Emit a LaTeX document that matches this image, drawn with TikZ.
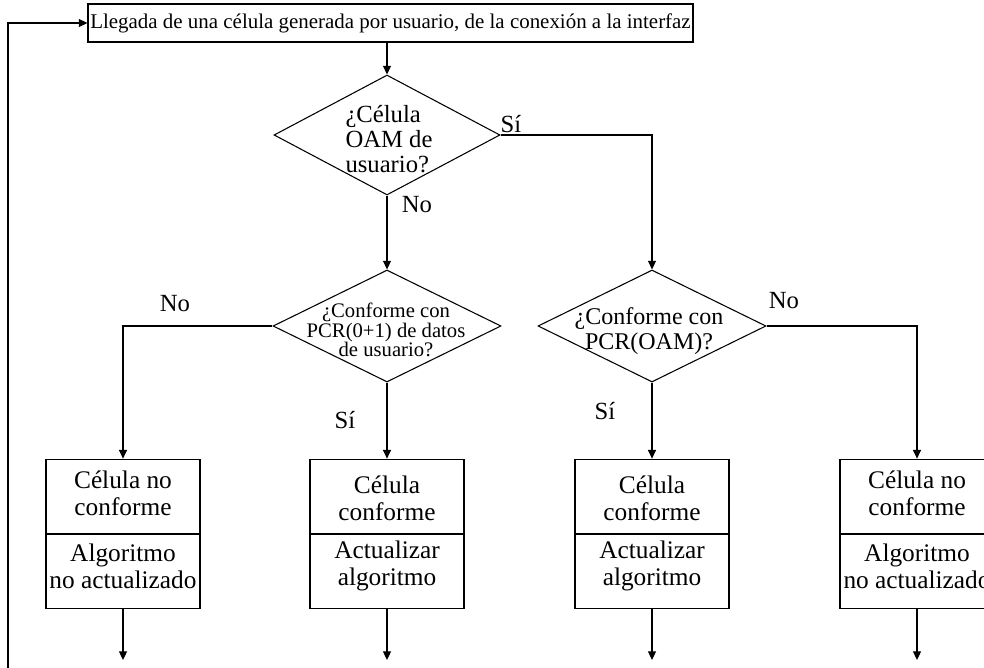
\documentclass[tikz,border=0pt]{standalone}
\usepackage{fontspec}
\setmainfont{Liberation Serif}
\usetikzlibrary{arrows.meta,shapes.geometric}
\begin{document}
\begin{tikzpicture}[x=0.75pt,y=-0.75pt,
  line/.style={draw=black, line width=0.8pt},
  flow/.style={line, -{Triangle[length=6.5pt,width=6pt]}},
  decision/.style={diamond, draw, line width=0.8pt, inner sep=0pt,
    minimum width=171pt, minimum height=84pt},
  part/.style={rectangle, draw, line width=0.8pt, inner sep=0pt,
    minimum width=115.5pt, minimum height=56pt},
  boxtext/.style={align=center, inner sep=0pt, font=\fontsize{19}{20}\selectfont},
  lbl/.style={inner sep=0pt, font=\fontsize{18.5}{20}\selectfont}]
\useasboundingbox (0,0) rectangle (984,667);

% entry box
\node[rectangle, draw, line width=0.8pt, minimum width=453.75pt, minimum height=28.5pt,
  inner sep=0pt, font=\fontsize{15.7}{18}\selectfont] (top) at (390.5,23)
  {Llegada de una célula generada por usuario, de la conexión a la interfaz};

% decisions
\node[decision, minimum width=169.5pt, minimum height=90pt] (d1) at (387,135) {};
\node[align=left, inner sep=0pt, font=\fontsize{18.5}{18.6}\selectfont] (t1) at (389,139)
  {¿Célula\\OAM de\\usuario?};
\node[decision] (d2) at (387,326) {};
\node[align=center, inner sep=0pt, font=\fontsize{15.5}{14.5}\selectfont] (t2) at (386,330)
  {¿Conforme con\\PCR(0+1) de datos\\de usuario?};
\node[decision] (d3) at (652,326) {};
\node[align=center, inner sep=0pt, font=\fontsize{18}{18.8}\selectfont] (t3) at (649,331)
  {¿Conforme con\\PCR(OAM)?};

% result boxes, two parts each
\foreach \n/\x in {1/123, 2/387, 3/652, 4/917} {
  \node[part] (b\n a) at (\x,496.5) {};
  \node[part] (b\n b) at (\x,571.5) {};
  \coordinate (e\n) at (\x,660);
}
\node[boxtext] (c1a) at (123,493) {Célula no\\conforme};
\node[boxtext] (c1b) at (123,566) {Algoritmo\\no actualizado};
\node[boxtext] (c2a) at (387,498) {Célula\\conforme};
\node[boxtext] (c2b) at (387,566) {Actualizar\\algoritmo};
\node[boxtext] (c3a) at (652,498) {Célula\\conforme};
\node[boxtext] (c3b) at (652,566) {Actualizar\\algoritmo};
\node[boxtext] (c4a) at (917,493) {Célula no\\conforme};
\node[boxtext] (c4b) at (917,566) {Algoritmo\\no actualizado};

% branch labels
\node[lbl] (l1) at (511,124) {Sí};
\node[lbl] (l2) at (417,205) {No};
\node[lbl] (l3) at (175,304) {No};
\node[lbl] (l4) at (345,420) {Sí};
\node[lbl] (l5) at (605,411) {Sí};
\node[lbl] (l6) at (784,301) {No};

% connectors
\coordinate (fb) at (8,668);
\draw[flow] (d1.north |- top.south) -- (d1.north);
\draw[flow] (d1.south) -- (d2.north);
\draw[flow] (d1.east) -| (d3.north);
\draw[flow] (d2.west) -| (b1a.north);
\draw[flow] (d2.south) -- (b2a.north);
\draw[flow] (d3.south) -- (b3a.north);
\draw[flow] (d3.east) -| (b4a.north);
\foreach \n in {1,2,3,4} \draw[flow] (b\n b.south) -- (e\n);
\draw[flow] (fb) |- (top.west);
\end{tikzpicture}
\end{document}
